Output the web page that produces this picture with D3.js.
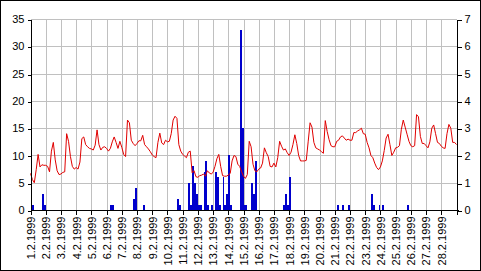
<!DOCTYPE html>
<html>
<head>
<meta charset="utf-8">
<script src="https://cdn.jsdelivr.net/npm/d3@7"></script>
<style>
html,body{margin:0;padding:0;background:#fff;}
svg{display:block;}
text{font-family:"Liberation Sans",Arial,sans-serif;font-size:11px;fill:#000;}
</style>
</head>
<body>
<svg id="chart" width="481" height="271"></svg>
<script>
// ---- data ----
const dayLabels = ["1.2.1999","2.2.1999","3.2.1999","4.2.1999","5.2.1999","6.2.1999","7.2.1999",
  "8.2.1999","9.2.1999","10.2.1999","11.2.1999","12.2.1999","13.2.1999","14.2.1999",
  "15.2.1999","16.2.1999","17.2.1999","18.2.1999","19.2.1999","20.2.1999","21.2.1999",
  "22.2.1999","23.2.1999","24.2.1999","25.2.1999","26.2.1999","27.2.1999","28.2.1999"];
const leftTicks = [0,5,10,15,20,25,30,35];
const rightTicks = [0,1,2,3,4,5,6,7];
const stepHours = 3;
// temperature, one value every 3 hours from 1.2.1999 00:00 (left axis)
const temperature = [
  6.7,5.6,5.0,7.4,10.2,7.9,8.3,8.2,
  8.2,8.0,7.0,10.8,12.4,9.2,7.2,6.5,
  6.6,6.9,7.0,14.0,12.6,9.8,8.0,7.5,
  7.8,7.5,8.8,13.1,13.4,12.0,11.6,11.3,
  11.2,11.0,11.9,14.7,12.0,11.0,11.5,11.6,
  11.3,10.8,11.3,12.5,13.4,12.4,11.3,12.6,
  11.5,10.2,9.8,16.5,16.0,12.8,12.2,11.8,
  12.2,12.7,12.7,13.7,12.0,11.6,11.2,10.7,
  10.1,9.8,9.6,12.4,14.1,12.3,12.0,12.8,
  12.5,12.6,14.0,16.5,17.2,16.8,12.0,10.8,
  10.2,9.9,9.6,10.6,10.8,6.8,7.2,6.1,
  6.0,6.3,6.4,6.6,6.2,7.2,6.8,6.6,
  6.9,8.0,9.4,10.2,8.0,6.3,6.2,6.2,
  6.4,6.7,9.0,10.0,9.8,8.4,8.0,7.0,
  6.2,5.8,6.5,12.6,11.6,8.4,7.2,7.0,
  7.5,7.7,8.6,11.4,10.5,9.8,8.0,7.9,
  8.6,7.9,9.6,12.6,11.7,11.0,11.2,10.5,
  10.0,10.6,12.0,13.8,12.2,10.0,9.0,9.0,
  9.0,9.1,12.5,16.0,15.2,12.4,11.4,11.2,
  11.0,10.7,10.4,16.4,14.4,12.9,11.8,11.6,
  11.6,12.6,12.8,13.4,13.6,13.2,12.8,13.0,
  12.8,12.8,14.2,14.2,14.5,14.7,15.0,14.0,
  13.9,12.4,11.4,10.0,9.6,8.6,7.8,7.4,
  7.9,9.0,10.9,13.2,13.9,12.0,10.0,10.6,
  11.4,11.5,11.8,14.8,16.5,15.2,13.9,12.6,
  11.8,11.6,11.8,17.5,17.1,13.5,12.2,12.2,
  11.8,11.4,12.5,15.0,15.6,14.0,12.4,12.2,
  11.7,11.4,11.3,14.0,15.7,15.0,12.4,12.4,
  12.0
];
// precipitation (right axis): 3-hour slot index and amount
const rainSlot = [1,6,7,42,43,54,55,59,77,78,83,84,85,86,87,88,89,91,92,93,95,97,98,99,
  101,102,103,104,105,110,111,112,113,116,117,118,133,134,135,136,161,164,167,179,180,183,185,198];
const rainMm = [0.2,0.6,0.2,0.2,0.2,0.4,0.8,0.2,0.4,0.2,1.0,0.2,1.6,1.0,0.6,0.2,0.2,1.4,1.8,0.2,0.2,1.4,1.2,0.2,
  1.2,0.2,0.6,2.0,0.2,6.6,3.0,0.2,0.2,1.0,0.6,1.8,0.2,0.6,0.2,1.2,0.2,0.2,0.2,0.6,0.2,0.2,0.2,0.2];

// ---- layout ----
const svg = d3.select("#chart");
const X0 = 30.5, X1 = 456.5, Y0 = 210, Y1 = 19.2;
const totalHours = dayLabels.length * 24;
const x = d3.scaleLinear().domain([0, totalHours]).range([X0, X1]);
const yL = d3.scaleLinear().domain([0, 35]).range([Y0, Y1]);
const yR = d3.scaleLinear().domain([0, 7]).range([Y0, Y1]);
const px = v => Math.round(v) + 0.5;

svg.append("rect").attr("x",0.5).attr("y",0.5).attr("width",480).attr("height",270)
  .attr("fill","#fff").attr("stroke","#000");

// gridlines
const grid = svg.append("g").attr("stroke","#c0c0c0").attr("shape-rendering","crispEdges");
leftTicks.forEach(t => {
  grid.append("line").attr("x1",X0).attr("x2",X1).attr("y1",px(yL(t))).attr("y2",px(yL(t)));
});
dayLabels.forEach((d,i) => {
  if (i === 0) return;
  grid.append("line").attr("x1",px(x(i*24))).attr("x2",px(x(i*24))).attr("y1",px(Y1)).attr("y2",Y0);
});

// bars
svg.append("g").attr("fill","#0000cc").attr("shape-rendering","crispEdges")
  .selectAll("rect").data(rainSlot.map((s,i)=>({s, v: rainMm[i]}))).join("rect")
  .attr("x", d => x(d.s*stepHours))
  .attr("width", d => x((d.s+1)*stepHours) - x(d.s*stepHours))
  .attr("y", d => yR(d.v))
  .attr("height", d => Y0 - yR(d.v));

// line
const line = d3.line().x((d,i) => x(i*stepHours)).y(d => yL(d));
svg.append("path").datum(temperature).attr("d", line)
  .attr("fill","none").attr("stroke","#e00000").attr("stroke-width",1)
  .attr("stroke-linejoin","miter");

// axes
const axL = d3.axisLeft(yL).tickValues(leftTicks).tickSize(4).tickPadding(3).tickFormat(d3.format("d"));
const axR = d3.axisRight(yR).tickValues(rightTicks).tickSize(4).tickPadding(3).tickFormat(d3.format("d"));
const axB = d3.axisBottom(x).tickValues(d3.range(0, totalHours+1, 24)).tickSize(4)
  .tickFormat((d,i) => dayLabels[i] || "");

const gL = svg.append("g").attr("transform",`translate(${px(X0)},0)`).call(axL);
const gR = svg.append("g").attr("transform",`translate(${px(X1)},0)`).call(axR);
const gB = svg.append("g").attr("transform",`translate(0,${px(Y0)})`).call(axB);
[gL,gR,gB].forEach(g => {
  g.selectAll("path,line").attr("stroke","#000").attr("shape-rendering","crispEdges");
  g.select(".domain").attr("d", null);
  g.selectAll("text").style("font-family","'Liberation Sans',Arial,sans-serif").style("font-size","11px");
});
gL.selectAll(".tick line").attr("transform", d => `translate(0,${px(yL(d))-yL(d)})`);
gR.selectAll(".tick line").attr("transform", d => `translate(0,${px(yR(d))-yR(d)})`);
gB.selectAll(".tick text")
  .attr("transform","rotate(-90)")
  .attr("text-anchor","end")
  .attr("x",-6).attr("y",0).attr("dy","0.35em");
// axis lines
const ax = svg.append("g").attr("stroke","#000").attr("shape-rendering","crispEdges");
ax.append("line").attr("x1",px(X0)).attr("x2",px(X0)).attr("y1",px(Y1)).attr("y2",px(Y0));
ax.append("line").attr("x1",px(X1)).attr("x2",px(X1)).attr("y1",px(Y1)).attr("y2",px(Y0));
ax.append("line").attr("x1",px(X0)).attr("x2",px(X1)+1).attr("y1",px(Y0)).attr("y2",px(Y0));
</script>
</body>
</html>
